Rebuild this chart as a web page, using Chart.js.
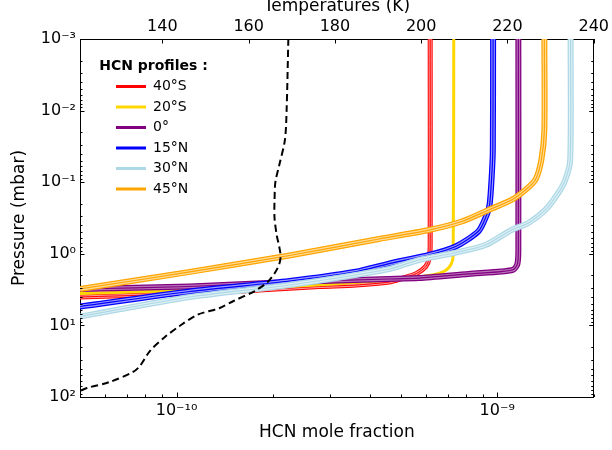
<!DOCTYPE html>
<html>
<head>
<meta charset="utf-8">
<script src="https://cdn.jsdelivr.net/npm/chart.js@4.4.1/dist/chart.umd.min.js"></script>
<style>
  html, body { margin: 0; padding: 0; background: #ffffff; }
  canvas { display: block; }
</style>
</head>
<body>
<canvas id="chart" width="612" height="450"></canvas>
<script>
// ---------------- data ----------------
const latitudes = ['40°S', '20°S', '0°', '15°N', '30°N', '45°N'];

// HCN mole fraction (bottom axis) and pressure in mbar (left axis)
const hcn40S = [5.0e-11, 1.14e-10, 1.81e-10, 2.79e-10, 3.63e-10, 4.60e-10, 5.04e-10, 5.61e-10, 5.99e-10, 6.14e-10, 6.18e-10, 6.18e-10];
const p40S   = [4.01, 3.59, 3.20, 2.86, 2.73, 2.48, 2.21, 1.88, 1.50, 1.145, 0.753, 0.001];

const hcn20S = [5.0e-11, 1.18e-10, 2.25e-10, 4.60e-10, 6.12e-10, 6.86e-10, 7.19e-10, 7.29e-10, 7.32e-10];
const p20S   = [3.59, 3.20, 2.86, 2.32, 2.01, 1.74, 1.39, 1.04, 0.001];

const hcnEq  = [5.0e-11, 1.10e-10, 2.25e-10, 4.60e-10, 5.70e-10, 8.15e-10, 1.031e-9, 1.124e-9, 1.156e-9, 1.164e-9, 1.164e-9];
const pEq    = [3.10, 2.86, 2.48, 2.25, 2.18, 1.91, 1.77, 1.66, 1.39, 0.885, 0.001];

const hcn15N = [5.0e-11, 1.10e-10, 2.25e-10, 3.62e-10, 4.60e-10, 6.12e-10, 7.42e-10, 8.75e-10, 9.27e-10, 9.465e-10, 9.60e-10, 9.69e-10, 9.71e-10];
const p15N   = [5.45, 3.36, 2.40, 1.78, 1.37, 1.04, 0.791, 0.481, 0.287, 0.208, 0.093, 0.0355, 0.001];

const hcn30N = [5.0e-11, 1.10e-10, 2.25e-10, 4.60e-10, 5.70e-10, 7.32e-10, 9.20e-10, 1.108e-9, 1.251e-9, 1.413e-9, 1.55e-9, 1.63e-9, 1.689e-9, 1.694e-9];
const p30N   = [7.51, 4.01, 2.73, 1.63, 1.22, 0.975, 0.753, 0.465, 0.371, 0.244, 0.1415, 0.093, 0.049, 0.001];

const hcn45N = [5.0e-11, 1.10e-10, 2.25e-10, 4.28e-10, 6.12e-10, 7.75e-10, 9.40e-10, 1.108e-9, 1.224e-9, 1.315e-9, 1.373e-9, 1.403e-9, 1.403e-9];
const p45N   = [3.10, 1.79, 1.056, 0.621, 0.466, 0.354, 0.244, 0.177, 0.1285, 0.093, 0.049, 0.0187, 0.001];

// temperature profile (top axis, K) against pressure (mbar)
const tempK = [169.2, 168.8, 168.4, 167.1, 166.2, 166.0, 166.0, 166.5, 167.1, 167.4, 167.1, 166.2, 164.4, 161.4, 156.5, 153.3, 148.0, 144.0, 140.6, 137.1, 134.8, 133.2, 127.8, 122.5, 120.9];
const tempP = [0.001, 0.0098, 0.0258, 0.0575, 0.0993, 0.177, 0.316, 0.546, 0.804, 1.073, 1.388, 1.796, 2.477, 3.309, 4.562, 5.715, 7.155, 10.2, 14.5, 22.8, 36.9, 44.7, 61.7, 74.9, 82.5];

// tick labels
const yTickValues = [1e-3, 1e-2, 1e-1, 1, 10, 100];
const yTickLabels = ['10⁻³', '10⁻²', '10⁻¹', '10⁰', '10¹', '10²'];
const xTickValues = [1e-10, 1e-9];
const xTickLabels = ['10⁻¹⁰', '10⁻⁹'];
const tTickValues = [140, 160, 180, 200, 220, 240];
const tTickLabels = ['140', '160', '180', '200', '220', '240'];

// ---------------- styling ----------------
const X_MIN = 5e-11, X_MAX = 2e-9, Y_MIN = 1e-3, Y_MAX = 100, T_MIN = 120.9, T_MAX = 240;
const latColors = ['#ff0000', '#ffd700', '#800080', '#0000ff', '#add8e6', '#ffa500'];
const latLayers = [
  [[5, '#ff0000'], [3, 'rgba(255,255,255,0.6)'], [1, '#ff0000']],
  [[3, '#ffd700']],
  [[6, '#800080'], [3.5, 'rgba(255,255,255,0.45)'], [1.2, '#800080']],
  [[6, '#0000ff'], [3.5, 'rgba(255,255,255,0.6)'], [1.2, '#0000ff']],
  [[6, '#add8e6'], [3.5, 'rgba(255,255,255,0.6)'], [1.2, '#add8e6']],
  [[6, '#ffa500'], [3.5, 'rgba(255,255,255,0.6)'], [1.2, '#ffa500']]
];
const series = [[hcn40S, p40S], [hcn20S, p20S], [hcnEq, pEq], [hcn15N, p15N], [hcn30N, p30N], [hcn45N, p45N]];

Chart.defaults.font.family = 'DejaVu Sans';
Chart.defaults.color = '#000';

const datasets = [];
series.forEach(([xs, ps], i) => {
  latLayers[i].forEach(([w, c]) => {
    datasets.push({
      label: latitudes[i],
      data: xs.map((v, k) => ({ x: v, y: ps[k] })),
      xAxisID: 'x', yAxisID: 'y',
      showLine: true, pointRadius: 0, pointHoverRadius: 0,
      borderColor: c, backgroundColor: c, borderWidth: w,
      tension: 0.25, fill: false, clip: 0,
      borderJoinStyle: 'round'
    });
  });
});
datasets.push({
  label: 'Temperature',
  data: tempK.map((t, k) => ({ x: t, y: tempP[k] })),
  xAxisID: 'xT', yAxisID: 'y',
  showLine: true, pointRadius: 0, pointHoverRadius: 0,
  borderColor: '#000', borderWidth: 2, borderDash: [7, 4],
  tension: 0.3, fill: false, clip: 0
});
datasets.forEach((d, k) => { d.order = 1000 - k; });

const logTicks = (min, max) => {
  const out = [];
  for (let e = Math.floor(Math.log10(min)); e <= Math.ceil(Math.log10(max)); e++) {
    for (let m = 1; m <= 9; m++) {
      const v = +(m * Math.pow(10, e)).toPrecision(6);
      if (v >= min * 0.999999 && v <= max * 1.000001) out.push({ value: v });
    }
  }
  return out;
};
const labelFrom = (vals, labels) => (v) => {
  const i = vals.findIndex(t => Math.abs(t - v) <= Math.abs(t) * 1e-6);
  return i >= 0 ? labels[i] : '';
};
const tickFont = { family: 'DejaVu Sans', size: 16 };
const axisTitleFont = { family: 'DejaVu Sans', size: 17, lineHeight: 1 };

// inward tick marks (major / minor) drawn from the scales' own ticks
const tickMarks = {
  id: 'tickMarks',
  afterDraw(chart) {
    const { ctx, chartArea: a, scales } = chart;
    ctx.save();
    ctx.strokeStyle = '#000';
    ctx.lineWidth = 1;
    const seg = (x1, y1, x2, y2) => { ctx.beginPath(); ctx.moveTo(x1, y1); ctx.lineTo(x2, y2); ctx.stroke(); };
    const isMajor = v => Math.abs(Math.log10(v) - Math.round(Math.log10(v))) < 1e-6;
    scales.x.ticks.forEach(t => {
      const px = Math.round(scales.x.getPixelForValue(t.value)) + 0.5;
      const L = isMajor(t.value) ? 4.5 : 2.5;
      seg(px, a.bottom, px, a.bottom - L);
    });
    scales.y.ticks.forEach(t => {
      const py = Math.round(scales.y.getPixelForValue(t.value)) + 0.5;
      const L = isMajor(t.value) ? 4.5 : 2.5;
      seg(a.left, py, a.left + L, py);
      seg(a.right, py, a.right - L, py);
    });
    scales.xT.ticks.forEach(t => {
      const px = Math.round(scales.xT.getPixelForValue(t.value)) + 0.5;
      seg(px, a.top, px, a.top + 4.5);
    });
    ctx.restore();
  }
};

// place the legend box inside the plotting area, upper left
const legendPlace = {
  id: 'legendPlace',
  afterLayout(chart) {
    const lg = chart.legend;
    if (!lg) return;
    lg.left = 109.5;
    lg.width = 88;
    lg.right = 330;
    lg.top = 59;
    lg.bottom = 260;
    if (typeof lg._draw === 'function' && !lg._noClip) {
      lg._noClip = true;
      lg.draw = function () { if (this.options.display) this._draw(); };
    }
  }
};

new Chart(document.getElementById('chart'), {
  type: 'scatter',
  data: { datasets },
  options: {
    responsive: false,
    animation: false,
    events: [],
    devicePixelRatio: 1,
    layout: { padding: 0 },
    plugins: {
      tooltip: { enabled: false },
      legend: {
        display: true,
        position: 'chartArea',
        align: 'start',
        title: {
          display: true,
          text: 'HCN profiles :',
          color: '#000',
          position: 'center',
          font: { family: 'DejaVu Sans', size: 14, weight: 'bold', lineHeight: 1 },
          padding: 0
        },
        labels: {
          boxWidth: 30,
          boxHeight: 3,
          padding: 6.5,
          color: '#000',
          font: { family: 'DejaVu Sans', size: 14 },
          generateLabels: () => latitudes.map((t, i) => ({
            text: t, fillStyle: latColors[i], strokeStyle: latColors[i],
            lineWidth: 0, hidden: false, datasetIndex: i
          }))
        }
      }
    },
    scales: {
      x: {
        type: 'logarithmic', position: 'bottom', min: X_MIN, max: X_MAX,
        afterBuildTicks: s => { s.ticks = logTicks(X_MIN, X_MAX); },
        afterFit: s => { s.height = 53; },
        ticks: { autoSkip: false, maxRotation: 0, minRotation: 0, padding: 4, font: tickFont, color: '#000',
                 callback: labelFrom(xTickValues, xTickLabels) },
        grid: { drawOnChartArea: false, drawTicks: false },
        border: { color: '#000', width: 1 },
        title: { display: true, text: 'HCN mole fraction', font: axisTitleFont, color: '#000', padding: { top: 0, bottom: 8.5 } }
      },
      xT: {
        type: 'linear', position: 'top', min: T_MIN, max: T_MAX,
        afterBuildTicks: s => { s.ticks = tTickValues.map(v => ({ value: v })); },
        afterFit: s => { s.height = 39; },
        ticks: { autoSkip: false, maxRotation: 0, minRotation: 0, padding: 3, font: tickFont, color: '#000',
                 callback: labelFrom(tTickValues, tTickLabels) },
        grid: { drawOnChartArea: false, drawTicks: false },
        border: { color: '#000', width: 1 },
        title: { display: true, text: 'Temperatures (K)', font: axisTitleFont, color: '#000', padding: { top: -2.2, bottom: 0 } }
      },
      y: {
        type: 'logarithmic', position: 'left', reverse: true, min: Y_MIN, max: Y_MAX,
        afterBuildTicks: s => { s.ticks = logTicks(Y_MIN, Y_MAX); },
        afterFit: s => { s.width = 80; },
        ticks: { autoSkip: false, padding: 4, font: tickFont, color: '#000',
                 callback: labelFrom(yTickValues, yTickLabels) },
        grid: { drawOnChartArea: false, drawTicks: false },
        border: { color: '#000', width: 1 },
        title: { display: true, text: 'Pressure (mbar)', font: axisTitleFont, color: '#000', padding: { top: 11.5, bottom: 0 } }
      },
      y2: {
        type: 'logarithmic', position: 'right', reverse: true, min: Y_MIN, max: Y_MAX,
        afterFit: s => { s.width = 17; },
        ticks: { display: false },
        grid: { drawOnChartArea: false, drawTicks: false },
        border: { color: '#000', width: 1 }
      }
    }
  },
  plugins: [tickMarks, legendPlace]
});
</script>
</body>
</html>
